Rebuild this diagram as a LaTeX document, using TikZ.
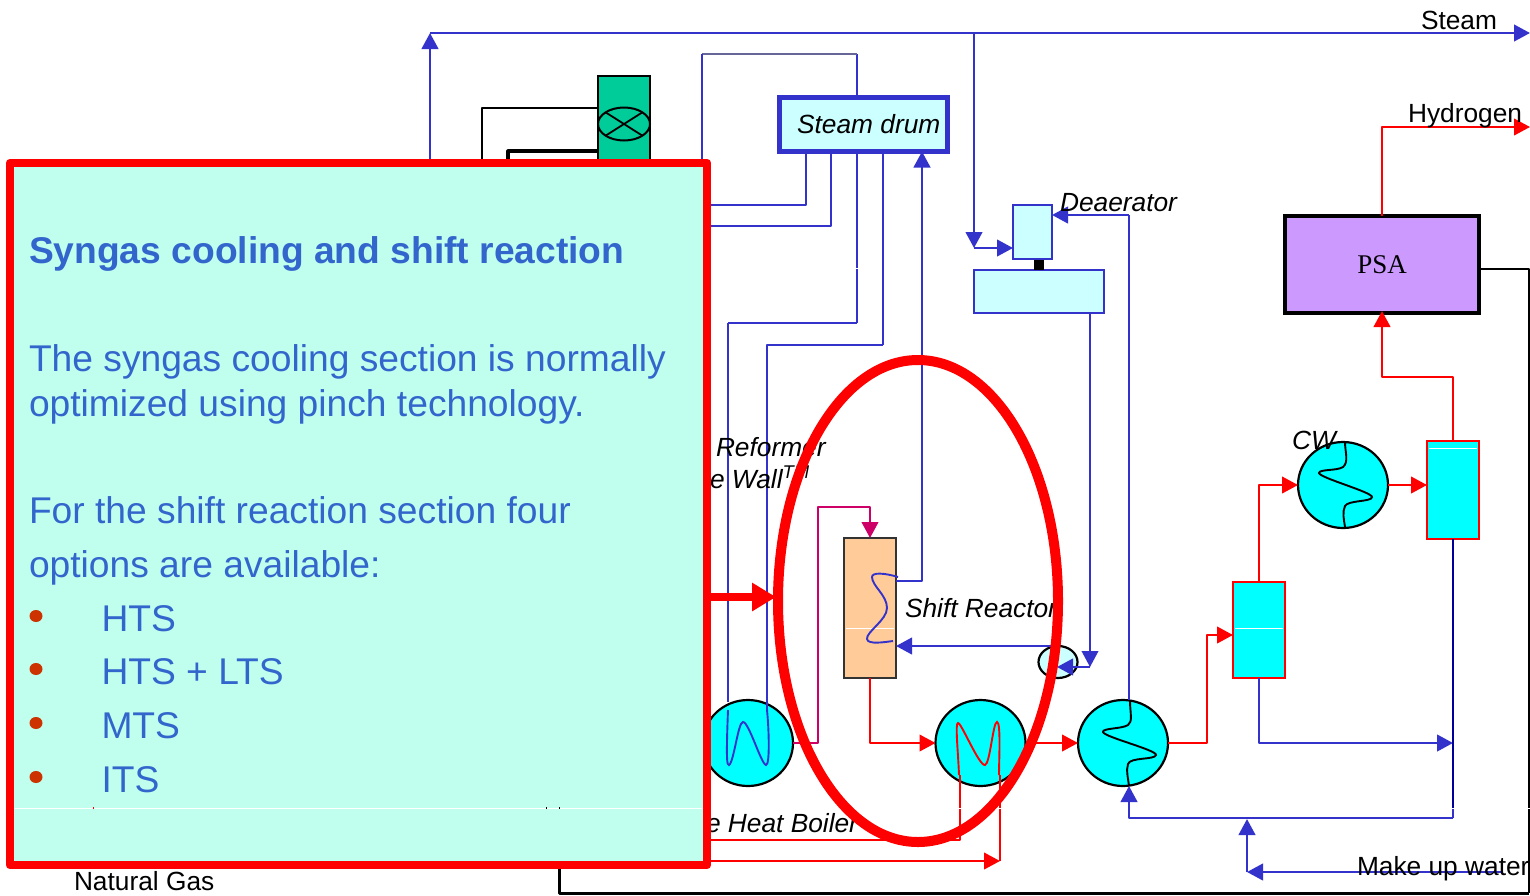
\documentclass[tikz,border=0pt]{standalone}
\usepackage{fontspec}
\setmainfont{Liberation Sans}
\newfontfamily\psafont{Liberation Serif}
\usetikzlibrary{arrows.meta,shapes.geometric,calc}
\definecolor{pblue}{HTML}{3333CC}
\definecolor{pred}{HTML}{FF0000}
\definecolor{pnavy}{HTML}{000099}
\definecolor{ppink}{HTML}{CC0066}
\definecolor{pcyan}{HTML}{00FFFF}
\definecolor{ppale}{HTML}{CCFFFF}
\definecolor{ppanel}{HTML}{C0FFEE}
\definecolor{ptext}{HTML}{3366CC}
\definecolor{pbullet}{HTML}{CC3300}
\tikzset{
  every node/.style={outer sep=0pt,inner sep=0pt},
  tipp/.style={-{Triangle[length=16pt,width=16.5pt]}},
  blueline/.style={draw=pblue,line width=2.7pt,line join=round},
  bluethin/.style={draw=pblue,line width=2.2pt,line join=round},
  redline/.style={draw=pred,line width=2.5pt,line join=round},
  pinkline/.style={draw=ppink,line width=2.5pt,line join=round},
  navyline/.style={draw=pnavy,line width=2.4pt,line join=round},
  blackline/.style={draw=black,line width=2.4pt,line join=round},
  coil/.style={line width=1.9pt},
  hx/.style={ellipse,draw=black,line width=2.2pt,fill=pcyan,minimum width=90pt,minimum height=86pt},
  vessel/.style={rectangle,draw=pred,line width=2.4pt,fill=pcyan,minimum width=52pt},
  label/.style={anchor=base west,font=\fontsize{26.3}{30}\selectfont,text=black},
  ilabel/.style={anchor=base west,font=\fontsize{26.3}{30}\selectfont\itshape,text=black},
  panelhead/.style={anchor=base west,font=\fontsize{37.2}{42}\selectfont\bfseries,text=ptext},
  paneltext/.style={anchor=base west,font=\fontsize{37.2}{42}\selectfont,text=ptext},
  dotb/.style={ellipse,fill=pbullet,minimum width=13pt,minimum height=12pt},
  seam/.style={draw=white,line width=.9pt}
}
\begin{document}
\begin{tikzpicture}[x=1pt,y=-1pt]
\useasboundingbox (0,0) rectangle (1530,895);
% named junctions
\coordinate (steamstart) at (430,160);
\coordinate (steamcorner) at (430,33);
\coordinate (steamend) at (1530,33);
\coordinate (deatee) at (974,33);
\coordinate (deacorner) at (974,248);
\coordinate (drumloopa) at (857,54);
\coordinate (drumloopb) at (702,54);
\coordinate (drumloopc) at (702,162);
\coordinate (ca) at (806,205);
\coordinate (cal) at (708,205);
\coordinate (cb) at (831,226);
\coordinate (cbl) at (708,226);
\coordinate (cc) at (857,323);
\coordinate (ccl) at (728,323);
\coordinate (ccb) at (728,702);
\coordinate (cd) at (883,345);
\coordinate (cdl) at (767,345);
\coordinate (cdb) at (767,712);
\coordinate (shiftout) at (922,581);
\coordinate (pinka) at (818,743);
\coordinate (pinkb) at (818,507);
\coordinate (pinkc) at (870,507);
\coordinate (rcorner) at (870,743);
\coordinate (bfwcorner) at (1090,667);
\coordinate (bfwtip) at (1057,667);
\coordinate (bfwshift) at (1051,646);
\coordinate (feedcorner) at (1129,215);
\coordinate (rsa) at (1207,743);
\coordinate (rsb) at (1207,635);
\coordinate (rsc) at (1259,485);
\coordinate (rsd) at (1453,377);
\coordinate (rse) at (1382,377);
\coordinate (hcorner) at (1382,127);
\coordinate (hend) at (1530,127);
\coordinate (pa) at (1529,269);
\coordinate (pb) at (1529,893);
\coordinate (pc) at (559,893);
\coordinate (pd) at (559,866);
\coordinate (wa) at (1259,743);
\coordinate (wb) at (1453,743);
\coordinate (wc) at (1453,818);
\coordinate (wseam) at (1453,808);
\coordinate (wd) at (1129,818);
\coordinate (mustart) at (1503,872);
\coordinate (mucorner) at (1247,872);
\coordinate (mutip) at (1247,819);
\coordinate (la) at (960,775);
\coordinate (lb) at (960,840);
\coordinate (lc) at (708,840);
\coordinate (ld) at (1000,775);
\coordinate (le) at (1000,861);
\coordinate (lf) at (708,861);
\coordinate (ga) at (482,108);
\coordinate (gb) at (482,162);
\coordinate (gc) at (508,151);
\coordinate (gd) at (508,162);
% equipment
\node[rectangle,draw=black,line width=2.2pt,minimum width=52pt,minimum height=84pt,fill={rgb,255:red,0;green,204;blue,153}] (stack) at (624,118) {};
\node[ellipse,draw=black,line width=2pt,minimum width=52pt,minimum height=33pt] (valve) at (624,124) {};
\node[rectangle,draw=pblue,line width=5pt,fill=ppale,minimum width=168pt,minimum height=54pt,font=\fontsize{26.3}{30}\selectfont\itshape] (drum) at (863.5,124.5) {\hspace*{10.5pt}Steam drum};
\node[rectangle,draw=pblue,line width=2.2pt,fill=ppale,minimum width=39pt,minimum height=54pt] (deatop) at (1032.5,232) {};
\node[rectangle,draw=pblue,line width=2.2pt,fill=ppale,minimum width=130pt,minimum height=43pt] (deabot) at (1039,291.5) {};
\node[rectangle,fill=black,minimum width=10pt,minimum height=10pt] (deaneck) at (1039,264.5) {};
\node[rectangle,draw=black,line width=4.8pt,fill={rgb,255:red,204;green,153;blue,255},minimum width=194pt,minimum height=97pt,font=\fontsize{27}{30}\selectfont\psafont] (psa) at (1382,264.5) {\raisebox{-2pt}{PSA}};
\node[rectangle,draw=black!80,line width=2.4pt,fill={rgb,255:red,255;green,204;blue,153},minimum width=52pt,minimum height=140pt] (shift) at (870,608) {};
\node[ellipse,draw=black,line width=2.2pt,fill=ppale,minimum width=39pt,minimum height=32pt] (mix) at (1058,662) {};
\node[hx] (wheat) at (748,743) {};
\node[hx] (hxa) at (980.5,743) {};
\node[hx] (hxb) at (1123,743) {};
\node[hx] (cw) at (1343,485) {};
\node[vessel,minimum height=96pt] (sepa) at (1259,630) {};
\node[vessel,minimum height=98pt] (sepb) at (1453,490) {};
% internal seams and coils
\draw[seam] (846,628) -- (894,628);
\draw[seam] (1235,628) -- (1283,628);
\draw[seam] (1429,448) -- (1477,448);
\draw[line width=1.8pt] (valve.north west) -- (valve.south east);
\draw[line width=1.8pt] (valve.south west) -- (valve.north east);
\draw[pblue,coil] (728,710) .. controls (726,760) and (727,766) .. (729,765) .. controls (734,762) and (738,722) .. (743,722) .. controls (749,722) and (761,764) .. (766,765) .. controls (770,765) and (769,730) .. (767,710);
\draw[pred,coil] (959,775) .. controls (958,750) and (955,723) .. (958,723) .. controls (961,722) and (979,766) .. (985,765) .. controls (990,764) and (993,722) .. (997,722) .. controls (1001,722) and (999,760) .. (999,775);
\draw[pblue,coil] (898,577) .. controls (885,573) and (872,572) .. (872,577) .. controls (872,586) and (887,595) .. (887,608) .. controls (887,620) and (866,632) .. (867,639) .. controls (868,645) and (885,642) .. (893,641);
\draw[black,coil] (1130,701) .. controls (1130,712) and (1133,722) .. (1128,725) .. controls (1122,729) and (1102,728) .. (1103,732) .. controls (1104,737) and (1157,750) .. (1156,755) .. controls (1155,760) and (1130,757) .. (1128,764) .. controls (1126,770) and (1128,778) .. (1129,786);
\draw[black,coil] (1345,442) .. controls (1345,452) and (1349,462) .. (1343,467) .. controls (1337,471) and (1319,469) .. (1319,473) .. controls (1320,478) and (1372,492) .. (1372,497) .. controls (1372,502) and (1348,500) .. (1345,506) .. controls (1342,512) and (1344,520) .. (1345,527);
% connectors: steam and water
\draw[blueline,tipp] (steamstart) -- (steamcorner);
\draw[blueline,tipp] (steamcorner) -- (steamend);
\draw[blueline,tipp] (deatee) -- (deacorner);
\draw[blueline,tipp] (deacorner) -- (deacorner -| deatop.west);
\draw[blueline] (drum.north -| drumloopa) -- (drumloopa);
\draw[draw={rgb,255:red,102;green,102;blue,153},line width=2.7pt] (drumloopa) -- (drumloopb);
\draw[bluethin] (drumloopb) -- (drumloopc);
\draw[bluethin] (drum.south -| ca) -- (ca) -- (cal);
\draw[blueline] (drum.south -| cb) -- (cb) -- (cbl);
\draw[blueline] (drum.south -| cc) -- (cc);
\draw[blueline] (cc) -- (ccl);
\draw[bluethin] (ccl) -- (ccb);
\draw[blueline] (drum.south -| cd) -- (cd);
\draw[bluethin] (cd) -- (cdl) -- (cdb);
\draw[blueline,tipp] (shift.east |- shiftout) -- (shiftout) -- (drum.south -| shiftout);
\draw[bluethin,tipp] (deabot.south -| bfwcorner) -- (bfwcorner);
\draw[blueline,tipp] (bfwcorner) -- (bfwtip);
\draw[blueline,tipp] (bfwshift) -- (shift.east |- bfwshift);
\draw[blueline] (hxb.north -| feedcorner) -- (feedcorner);
\draw[blueline,tipp] (feedcorner) -- (feedcorner -| deatop.east);
\draw[blueline,tipp] (sepa.south) -- (wa) -- (wb);
\draw[navyline] (sepb.south) -- (wseam);
\draw[blueline] (wseam) -- (wc);
\draw[blueline,tipp] (wc) -- (wd) -- (hxb.south -| wd);
\draw[blueline,tipp] (mustart) -- (mucorner);
\draw[blueline,tipp] (mucorner) -- (mutip);
% connectors: process gas
\draw[pinkline,tipp] (wheat.east) -- (pinka) -- (pinkb) -- (pinkc) -- (shift.north);
\draw[redline,tipp] (shift.south) -- (rcorner) -- (hxa.west);
\draw[redline,tipp] (hxa.east) -- (hxb.west);
\draw[redline,tipp] (hxb.east) -- (rsa) -- (rsb) -- (sepa.west |- rsb);
\draw[redline,tipp] (sepa.north) -- (rsc) -- (cw.west);
\draw[redline,tipp] (cw.east) -- (sepb.west |- cw.east);
\draw[redline,tipp] (sepb.north) -- (rsd) -- (rse) -- ([yshift=2pt]psa.south);
\draw[redline,tipp] (psa.north) -- (hcorner) -- (hend);
\draw[redline] (la) -- (lb) -- (lc);
\draw[redline] (ld) -- (le);
\draw[redline,tipp] (lf) -- (le);
% black lines
\draw[blackline] (stack.west |- ga) -- (ga) -- (gb);
\draw[blackline,line width=3.2pt] (stack.west |- gc) -- (gc) -- (gd);
\draw[blackline] (psa.east |- pa) -- (pa) -- (pb);
\draw[blackline,line width=3pt] (pb) -- (pc) -- (pd);
% tile seams
\draw[seam] (855,268) -- (859,268);
\draw[seam] (958,808) -- (962,808);
\draw[seam] (998,808) -- (1002,808);
\draw[seam] (1451,808) -- (1455,808);
\draw[seam] (1526,808) -- (1530,808);
% labels
\node[label] (lsteam) at (1421,29) {Steam};
\node[label] (lhyd) at (1408,122) {Hydrogen};
\node[ilabel] (ldea) at (1060,211) {Deaerator};
\node[ilabel] (lcw) at (1292,449) {CW};
\node[ilabel] (lshift) at (905,617) {Shift Reactor};
\node[ilabel] (lref) at (716,456) {Reformer};
\node[ilabel] (lwall) at (710,488) {e Wall\textsuperscript{TM}};
\node[ilabel] (lboil) at (706,832) {e Heat Boiler};
\node[label] (lmake) at (1357,875) {Make up water};
\node[label] (lng) at (74,890) {Natural Gas};
% highlight
\node[ellipse,draw=pred,line width=10pt,minimum width=280pt,minimum height=482pt] (ring) at (918,601) {};
\node[rectangle,draw=pred,line width=8.5pt,line join=round,fill=ppanel,minimum width=697pt,minimum height=702pt] (panel) at (358.5,514) {};
\draw[draw=pred,line width=8.5pt,-{Triangle[length=24pt,width=27pt]},shorten >=2pt] (panel.east |- 0,597) -- (ring.west |- 0,597);
\draw[seam] (14,808) -- (703,808);
\draw[pred,line width=1pt] (93,807) -- (93,809);
\draw[black,line width=1pt] (546,807) -- (546,809) (559,807) -- (559,809);
\node[panelhead] (thead) at (29,263) {Syngas cooling and shift reaction};
\node[paneltext] (tla) at (29,371) {The syngas cooling section is normally};
\node[paneltext] (tlb) at (29,416) {optimized using pinch technology.};
\node[paneltext] (tlc) at (29,523) {For the shift reaction section four};
\node[paneltext] (tld) at (29,577) {options are available:};
\node[dotb] (da) at (36,616) {};
\node[dotb] (db) at (36,669) {};
\node[dotb] (dc) at (36,723) {};
\node[dotb] (dd) at (36,777) {};
\node[paneltext] (ia) at (101.5,631) {HTS};
\node[paneltext] (ib) at (101.5,684) {HTS + LTS};
\node[paneltext] (ic) at (101.5,738) {MTS};
\node[paneltext] (id) at (101.5,792) {ITS};
\end{tikzpicture}
\end{document}
